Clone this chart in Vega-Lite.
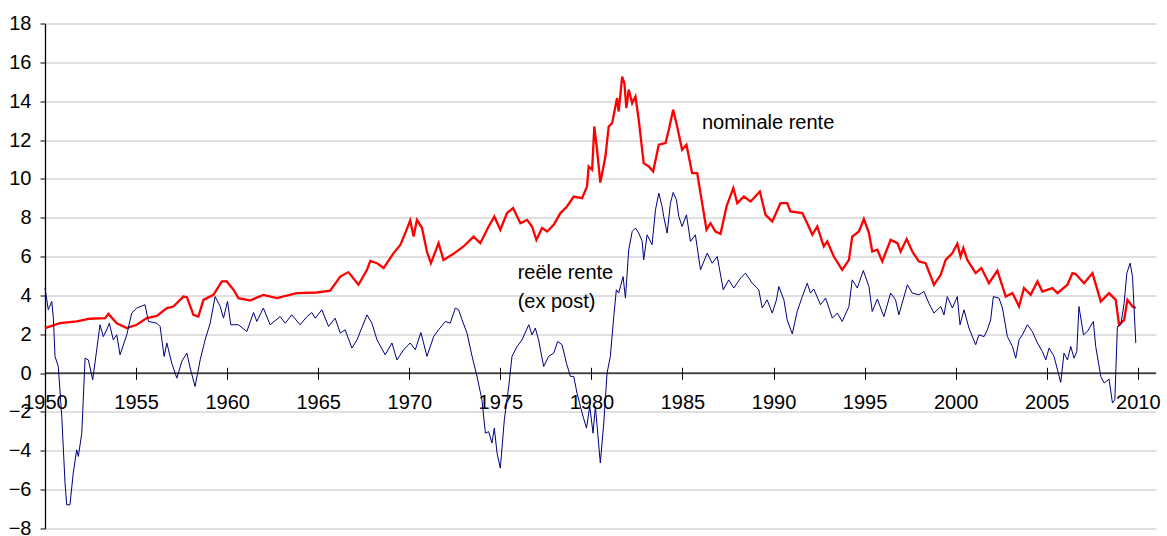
{
  "$schema": "https://vega.github.io/schema/vega-lite/v6.json",
  "width": 1111,
  "height": 505,
  "autosize": "none",
  "padding": {"left": 45, "top": 23.5, "right": 11, "bottom": 7.5},
  "config": {"view": {"stroke": null}, "font": "Liberation Sans"},
  "datasets": {
    "nominaal": [
      {"jaar":1950.00,"rente":2.32},{"jaar":1950.82,"rente":2.57},{"jaar":1951.74,"rente":2.66},{"jaar":1952.47,"rente":2.80},{"jaar":1953.30,"rente":2.83},{"jaar":1953.48,"rente":3.05},{"jaar":1953.94,"rente":2.57},{"jaar":1954.49,"rente":2.32},{"jaar":1955.04,"rente":2.49},{"jaar":1955.59,"rente":2.83},{"jaar":1956.14,"rente":2.95},{"jaar":1956.69,"rente":3.35},{"jaar":1957.05,"rente":3.43},{"jaar":1957.60,"rente":3.94},{"jaar":1957.79,"rente":3.91},{"jaar":1958.15,"rente":3.00},{"jaar":1958.42,"rente":2.91},{"jaar":1958.70,"rente":3.77},{"jaar":1959.25,"rente":4.03},{"jaar":1959.71,"rente":4.72},{"jaar":1959.98,"rente":4.72},{"jaar":1960.35,"rente":4.29},{"jaar":1960.62,"rente":3.86},{"jaar":1961.26,"rente":3.74},{"jaar":1961.99,"rente":4.03},{"jaar":1962.73,"rente":3.86},{"jaar":1963.83,"rente":4.12},{"jaar":1964.93,"rente":4.15},{"jaar":1965.66,"rente":4.25},{"jaar":1966.21,"rente":4.97},{"jaar":1966.66,"rente":5.20},{"jaar":1967.21,"rente":4.55},{"jaar":1967.68,"rente":5.32},{"jaar":1967.86,"rente":5.78},{"jaar":1968.23,"rente":5.66},{"jaar":1968.59,"rente":5.41},{"jaar":1969.14,"rente":6.18},{"jaar":1969.51,"rente":6.60},{"jaar":1969.78,"rente":7.21},{"jaar":1970.05,"rente":7.86},{"jaar":1970.24,"rente":7.03},{"jaar":1970.42,"rente":7.89},{"jaar":1970.70,"rente":7.47},{"jaar":1970.97,"rente":6.26},{"jaar":1971.19,"rente":5.66},{"jaar":1971.61,"rente":6.69},{"jaar":1971.88,"rente":5.83},{"jaar":1972.43,"rente":6.14},{"jaar":1972.98,"rente":6.52},{"jaar":1973.53,"rente":7.03},{"jaar":1973.90,"rente":6.69},{"jaar":1974.36,"rente":7.55},{"jaar":1974.67,"rente":8.06},{"jaar":1975.00,"rente":7.38},{"jaar":1975.37,"rente":8.24},{"jaar":1975.70,"rente":8.50},{"jaar":1976.10,"rente":7.72},{"jaar":1976.47,"rente":7.89},{"jaar":1976.74,"rente":7.55},{"jaar":1976.98,"rente":6.86},{"jaar":1977.29,"rente":7.47},{"jaar":1977.57,"rente":7.29},{"jaar":1977.93,"rente":7.64},{"jaar":1978.30,"rente":8.24},{"jaar":1978.66,"rente":8.58},{"jaar":1979.03,"rente":9.09},{"jaar":1979.49,"rente":9.01},{"jaar":1979.76,"rente":9.61},{"jaar":1979.85,"rente":10.64},{"jaar":1980.04,"rente":10.47},{"jaar":1980.16,"rente":12.70},{"jaar":1980.31,"rente":11.50},{"jaar":1980.49,"rente":9.81},{"jaar":1980.77,"rente":11.15},{"jaar":1980.95,"rente":12.70},{"jaar":1981.14,"rente":12.87},{"jaar":1981.41,"rente":14.16},{"jaar":1981.50,"rente":13.47},{"jaar":1981.69,"rente":15.27},{"jaar":1981.81,"rente":14.93},{"jaar":1981.92,"rente":13.65},{"jaar":1982.05,"rente":14.59},{"jaar":1982.24,"rente":13.90},{"jaar":1982.42,"rente":14.24},{"jaar":1982.60,"rente":13.04},{"jaar":1982.87,"rente":10.81},{"jaar":1983.15,"rente":10.64},{"jaar":1983.39,"rente":10.38},{"jaar":1983.70,"rente":11.76},{"jaar":1984.07,"rente":11.84},{"jaar":1984.25,"rente":12.53},{"jaar":1984.49,"rente":13.56},{"jaar":1984.71,"rente":12.70},{"jaar":1984.98,"rente":11.50},{"jaar":1985.22,"rente":11.76},{"jaar":1985.53,"rente":10.30},{"jaar":1985.81,"rente":10.30},{"jaar":1985.99,"rente":9.27},{"jaar":1986.32,"rente":7.38},{"jaar":1986.54,"rente":7.72},{"jaar":1986.81,"rente":7.29},{"jaar":1987.09,"rente":7.17},{"jaar":1987.42,"rente":8.58},{"jaar":1987.79,"rente":9.53},{"jaar":1988.01,"rente":8.75},{"jaar":1988.37,"rente":9.09},{"jaar":1988.74,"rente":8.84},{"jaar":1989.25,"rente":9.35},{"jaar":1989.56,"rente":8.15},{"jaar":1989.93,"rente":7.81},{"jaar":1990.38,"rente":8.75},{"jaar":1990.75,"rente":8.75},{"jaar":1990.93,"rente":8.32},{"jaar":1991.58,"rente":8.24},{"jaar":1991.85,"rente":7.72},{"jaar":1992.13,"rente":7.12},{"jaar":1992.40,"rente":7.55},{"jaar":1992.76,"rente":6.52},{"jaar":1992.95,"rente":6.78},{"jaar":1993.31,"rente":6.00},{"jaar":1993.77,"rente":5.32},{"jaar":1994.14,"rente":5.83},{"jaar":1994.32,"rente":7.03},{"jaar":1994.69,"rente":7.29},{"jaar":1994.96,"rente":7.93},{"jaar":1995.24,"rente":7.21},{"jaar":1995.42,"rente":6.26},{"jaar":1995.70,"rente":6.35},{"jaar":1995.97,"rente":5.75},{"jaar":1996.43,"rente":6.86},{"jaar":1996.80,"rente":6.69},{"jaar":1996.98,"rente":6.26},{"jaar":1997.31,"rente":6.90},{"jaar":1997.62,"rente":6.26},{"jaar":1997.98,"rente":5.75},{"jaar":1998.35,"rente":5.66},{"jaar":1998.81,"rente":4.55},{"jaar":1999.18,"rente":5.06},{"jaar":1999.45,"rente":5.83},{"jaar":1999.82,"rente":6.18},{"jaar":2000.09,"rente":6.66},{"jaar":2000.27,"rente":6.00},{"jaar":2000.42,"rente":6.44},{"jaar":2000.64,"rente":5.83},{"jaar":2001.10,"rente":5.15},{"jaar":2001.41,"rente":5.41},{"jaar":2001.83,"rente":4.63},{"jaar":2002.29,"rente":5.28},{"jaar":2002.75,"rente":3.94},{"jaar":2003.12,"rente":4.12},{"jaar":2003.48,"rente":3.43},{"jaar":2003.75,"rente":4.38},{"jaar":2004.12,"rente":4.03},{"jaar":2004.49,"rente":4.72},{"jaar":2004.76,"rente":4.20},{"jaar":2005.31,"rente":4.38},{"jaar":2005.59,"rente":4.12},{"jaar":2006.14,"rente":4.55},{"jaar":2006.41,"rente":5.15},{"jaar":2006.59,"rente":5.10},{"jaar":2007.05,"rente":4.63},{"jaar":2007.51,"rente":5.15},{"jaar":2007.97,"rente":3.69},{"jaar":2008.42,"rente":4.12},{"jaar":2008.79,"rente":3.77},{"jaar":2008.97,"rente":2.49},{"jaar":2009.25,"rente":2.74},{"jaar":2009.43,"rente":3.77},{"jaar":2009.71,"rente":3.43},{"jaar":2009.89,"rente":3.35}
    ],
    "reeel": [
      {"jaar":1950.00,"rente":4.38},{"jaar":1950.18,"rente":3.26},{"jaar":1950.37,"rente":3.69},{"jaar":1950.46,"rente":2.83},{"jaar":1950.55,"rente":0.86},{"jaar":1950.73,"rente":0.34},{"jaar":1950.92,"rente":-2.23},{"jaar":1951.10,"rente":-5.66},{"jaar":1951.19,"rente":-6.78},{"jaar":1951.37,"rente":-6.78},{"jaar":1951.55,"rente":-5.15},{"jaar":1951.74,"rente":-3.95},{"jaar":1951.83,"rente":-4.29},{"jaar":1952.02,"rente":-3.09},{"jaar":1952.20,"rente":0.77},{"jaar":1952.38,"rente":0.68},{"jaar":1952.62,"rente":-0.34},{"jaar":1952.84,"rente":1.20},{"jaar":1953.02,"rente":2.49},{"jaar":1953.20,"rente":1.88},{"jaar":1953.39,"rente":2.23},{"jaar":1953.53,"rente":2.57},{"jaar":1953.75,"rente":1.71},{"jaar":1953.94,"rente":1.97},{"jaar":1954.12,"rente":0.94},{"jaar":1954.49,"rente":1.97},{"jaar":1954.76,"rente":3.09},{"jaar":1955.04,"rente":3.35},{"jaar":1955.49,"rente":3.52},{"jaar":1955.68,"rente":2.66},{"jaar":1956.14,"rente":2.57},{"jaar":1956.32,"rente":2.40},{"jaar":1956.54,"rente":0.86},{"jaar":1956.69,"rente":1.55},{"jaar":1956.96,"rente":0.51},{"jaar":1957.24,"rente":-0.26},{"jaar":1957.51,"rente":0.60},{"jaar":1957.79,"rente":1.03},{"jaar":1957.97,"rente":0.26},{"jaar":1958.24,"rente":-0.69},{"jaar":1958.52,"rente":0.68},{"jaar":1958.79,"rente":1.71},{"jaar":1959.07,"rente":2.57},{"jaar":1959.34,"rente":3.94},{"jaar":1959.62,"rente":3.43},{"jaar":1959.80,"rente":2.83},{"jaar":1960.02,"rente":3.69},{"jaar":1960.20,"rente":2.49},{"jaar":1960.62,"rente":2.49},{"jaar":1961.08,"rente":2.14},{"jaar":1961.45,"rente":3.12},{"jaar":1961.63,"rente":2.66},{"jaar":1961.99,"rente":3.35},{"jaar":1962.36,"rente":2.49},{"jaar":1962.91,"rente":2.91},{"jaar":1963.19,"rente":2.57},{"jaar":1963.55,"rente":3.00},{"jaar":1964.01,"rente":2.49},{"jaar":1964.38,"rente":2.91},{"jaar":1964.65,"rente":3.12},{"jaar":1964.84,"rente":2.83},{"jaar":1965.20,"rente":3.26},{"jaar":1965.57,"rente":2.40},{"jaar":1965.93,"rente":2.83},{"jaar":1966.21,"rente":2.06},{"jaar":1966.48,"rente":2.23},{"jaar":1966.85,"rente":1.29},{"jaar":1967.13,"rente":1.71},{"jaar":1967.68,"rente":3.00},{"jaar":1967.95,"rente":2.57},{"jaar":1968.23,"rente":1.71},{"jaar":1968.68,"rente":0.94},{"jaar":1969.05,"rente":1.55},{"jaar":1969.32,"rente":0.68},{"jaar":1969.69,"rente":1.20},{"jaar":1970.05,"rente":1.55},{"jaar":1970.33,"rente":1.20},{"jaar":1970.64,"rente":2.09},{"jaar":1970.97,"rente":0.86},{"jaar":1971.34,"rente":1.88},{"jaar":1971.61,"rente":2.23},{"jaar":1971.98,"rente":2.66},{"jaar":1972.25,"rente":2.57},{"jaar":1972.53,"rente":3.35},{"jaar":1972.71,"rente":3.26},{"jaar":1972.90,"rente":2.74},{"jaar":1973.17,"rente":2.06},{"jaar":1973.45,"rente":0.86},{"jaar":1973.72,"rente":-0.17},{"jaar":1973.99,"rente":-1.37},{"jaar":1974.18,"rente":-3.09},{"jaar":1974.36,"rente":-3.01},{"jaar":1974.54,"rente":-3.60},{"jaar":1974.67,"rente":-2.83},{"jaar":1974.82,"rente":-4.12},{"jaar":1975.00,"rente":-4.89},{"jaar":1975.22,"rente":-2.40},{"jaar":1975.46,"rente":-0.69},{"jaar":1975.64,"rente":0.86},{"jaar":1975.92,"rente":1.37},{"jaar":1976.19,"rente":1.71},{"jaar":1976.56,"rente":2.49},{"jaar":1976.74,"rente":1.97},{"jaar":1976.92,"rente":2.32},{"jaar":1977.10,"rente":1.71},{"jaar":1977.38,"rente":0.34},{"jaar":1977.65,"rente":0.86},{"jaar":1977.93,"rente":1.03},{"jaar":1978.15,"rente":1.63},{"jaar":1978.39,"rente":1.46},{"jaar":1978.63,"rente":0.51},{"jaar":1978.85,"rente":-0.17},{"jaar":1979.03,"rente":-0.17},{"jaar":1979.21,"rente":-1.03},{"jaar":1979.49,"rente":-2.06},{"jaar":1979.73,"rente":-2.83},{"jaar":1979.91,"rente":-1.72},{"jaar":1980.09,"rente":-3.09},{"jaar":1980.22,"rente":-1.72},{"jaar":1980.49,"rente":-4.63},{"jaar":1980.68,"rente":-2.57},{"jaar":1980.86,"rente":0.00},{"jaar":1981.04,"rente":0.86},{"jaar":1981.22,"rente":2.83},{"jaar":1981.37,"rente":4.29},{"jaar":1981.50,"rente":4.12},{"jaar":1981.74,"rente":4.97},{"jaar":1981.87,"rente":3.86},{"jaar":1982.05,"rente":6.35},{"jaar":1982.24,"rente":7.29},{"jaar":1982.42,"rente":7.47},{"jaar":1982.60,"rente":7.21},{"jaar":1982.79,"rente":6.78},{"jaar":1982.87,"rente":5.83},{"jaar":1983.06,"rente":7.12},{"jaar":1983.33,"rente":6.61},{"jaar":1983.52,"rente":8.41},{"jaar":1983.70,"rente":9.27},{"jaar":1983.88,"rente":8.58},{"jaar":1983.97,"rente":8.06},{"jaar":1984.16,"rente":7.21},{"jaar":1984.34,"rente":8.75},{"jaar":1984.49,"rente":9.30},{"jaar":1984.67,"rente":8.92},{"jaar":1984.80,"rente":8.06},{"jaar":1984.98,"rente":7.55},{"jaar":1985.22,"rente":8.15},{"jaar":1985.44,"rente":6.78},{"jaar":1985.71,"rente":7.12},{"jaar":1985.99,"rente":5.32},{"jaar":1986.36,"rente":6.18},{"jaar":1986.63,"rente":5.66},{"jaar":1986.91,"rente":6.00},{"jaar":1987.24,"rente":4.29},{"jaar":1987.54,"rente":4.80},{"jaar":1987.82,"rente":4.38},{"jaar":1988.19,"rente":4.89},{"jaar":1988.46,"rente":5.15},{"jaar":1988.83,"rente":4.63},{"jaar":1989.19,"rente":4.29},{"jaar":1989.38,"rente":3.35},{"jaar":1989.65,"rente":3.77},{"jaar":1989.93,"rente":3.09},{"jaar":1990.16,"rente":3.77},{"jaar":1990.29,"rente":4.46},{"jaar":1990.57,"rente":3.77},{"jaar":1990.75,"rente":2.74},{"jaar":1991.03,"rente":2.02},{"jaar":1991.30,"rente":3.17},{"jaar":1991.58,"rente":3.94},{"jaar":1991.85,"rente":4.63},{"jaar":1992.03,"rente":4.12},{"jaar":1992.21,"rente":4.33},{"jaar":1992.58,"rente":3.52},{"jaar":1992.86,"rente":3.86},{"jaar":1993.23,"rente":2.83},{"jaar":1993.50,"rente":3.09},{"jaar":1993.77,"rente":2.66},{"jaar":1994.14,"rente":3.43},{"jaar":1994.32,"rente":4.80},{"jaar":1994.60,"rente":4.38},{"jaar":1994.93,"rente":5.28},{"jaar":1995.24,"rente":4.46},{"jaar":1995.42,"rente":3.17},{"jaar":1995.70,"rente":3.81},{"jaar":1996.06,"rente":2.91},{"jaar":1996.43,"rente":4.12},{"jaar":1996.70,"rente":3.77},{"jaar":1996.88,"rente":3.00},{"jaar":1997.35,"rente":4.55},{"jaar":1997.62,"rente":4.12},{"jaar":1997.98,"rente":4.03},{"jaar":1998.26,"rente":4.20},{"jaar":1998.53,"rente":3.60},{"jaar":1998.81,"rente":3.09},{"jaar":1999.18,"rente":3.43},{"jaar":1999.36,"rente":3.00},{"jaar":1999.54,"rente":3.94},{"jaar":1999.82,"rente":3.35},{"jaar":2000.09,"rente":3.94},{"jaar":2000.24,"rente":2.49},{"jaar":2000.46,"rente":3.26},{"jaar":2000.73,"rente":2.32},{"jaar":2001.10,"rente":1.46},{"jaar":2001.28,"rente":1.97},{"jaar":2001.56,"rente":1.88},{"jaar":2001.74,"rente":2.23},{"jaar":2001.92,"rente":2.74},{"jaar":2002.07,"rente":3.94},{"jaar":2002.38,"rente":3.86},{"jaar":2002.57,"rente":3.35},{"jaar":2002.84,"rente":1.88},{"jaar":2003.12,"rente":1.37},{"jaar":2003.30,"rente":0.77},{"jaar":2003.48,"rente":1.71},{"jaar":2003.66,"rente":1.97},{"jaar":2003.94,"rente":2.49},{"jaar":2004.21,"rente":2.14},{"jaar":2004.49,"rente":1.55},{"jaar":2004.76,"rente":1.11},{"jaar":2004.95,"rente":0.68},{"jaar":2005.13,"rente":1.29},{"jaar":2005.40,"rente":0.86},{"jaar":2005.77,"rente":-0.48},{"jaar":2005.95,"rente":1.03},{"jaar":2006.14,"rente":0.68},{"jaar":2006.32,"rente":1.37},{"jaar":2006.50,"rente":0.77},{"jaar":2006.65,"rente":1.11},{"jaar":2006.77,"rente":3.43},{"jaar":2007.02,"rente":1.97},{"jaar":2007.23,"rente":2.14},{"jaar":2007.56,"rente":2.66},{"jaar":2007.69,"rente":1.37},{"jaar":2007.97,"rente":-0.17},{"jaar":2008.15,"rente":-0.51},{"jaar":2008.42,"rente":-0.31},{"jaar":2008.61,"rente":-1.54},{"jaar":2008.74,"rente":-1.37},{"jaar":2008.88,"rente":2.40},{"jaar":2009.07,"rente":2.49},{"jaar":2009.25,"rente":3.60},{"jaar":2009.40,"rente":5.15},{"jaar":2009.58,"rente":5.66},{"jaar":2009.71,"rente":4.97},{"jaar":2009.89,"rente":1.55}
    ],
    "labels": [
      {"tekst": "nominale rente", "jaar": 1986.07, "rente": 12.89},
      {"tekst": "reële rente", "jaar": 1975.95, "rente": 5.15},
      {"tekst": "(ex post)", "jaar": 1975.95, "rente": 3.65}
    ]
  },
  "encoding": {
    "x": {
      "field": "jaar", "type": "quantitative",
      "scale": {"domain": [1950, 2011], "nice": false, "zero": false},
      "axis": {
        "values": [1950,1955,1960,1965,1970,1975,1980,1985,1990,1995,2000,2005,2010],
        "format": "d", "title": null, "grid": false, "domain": false,
        "tickColor": "#000000", "tickSize": 12, "tickWidth": 1,
        "offset": -161.2, "labelPadding": 13, "labelFontSize": 20,
        "labelColor": "#000000", "labelFont": "Liberation Sans", "labelFlush": false, "labelOverlap": false
      }
    },
    "y": {
      "field": "rente", "type": "quantitative",
      "scale": {"domain": [-8, 18], "nice": false, "zero": false},
      "axis": {
        "values": [-8,-6,-4,-2,0,2,4,6,8,10,12,14,16,18],
        "title": null, "grid": true, "gridColor": "#c0c0c0", "gridWidth": 1,
        "domainColor": "#000000", "domainWidth": 1.3,
        "tickColor": "#000000", "tickSize": 5, "labelPadding": 9,
        "labelFontSize": 20, "labelColor": "#000000", "labelFont": "Liberation Sans"
      }
    }
  },
  "layer": [
    {
      "data": {"name": "nominaal"},
      "mark": {"type": "line", "color": "#ff0000", "strokeWidth": 2.3, "interpolate": "linear"}
    },
    {
      "data": {"name": "reeel"},
      "mark": {"type": "line", "color": "#000080", "strokeWidth": 1, "interpolate": "linear"}
    },
    {
      "data": {"values": [{"nul": 0}]},
      "mark": {"type": "rule", "color": "#000000", "strokeWidth": 1.3},
      "encoding": {"y": {"field": "nul", "type": "quantitative"}, "x": null}
    },
    {
      "data": {"name": "labels"},
      "mark": {"type": "text", "align": "left", "baseline": "middle", "fontSize": 20, "font": "Liberation Sans", "color": "#000000"},
      "encoding": {"text": {"field": "tekst"}}
    }
  ]
}
